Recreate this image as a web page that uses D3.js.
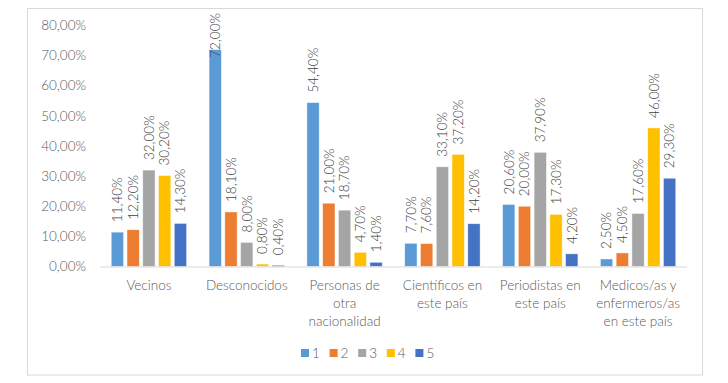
<!DOCTYPE html>
<html>
<head>
<meta charset="utf-8">
<script src="https://cdn.jsdelivr.net/npm/d3@7"></script>
<style>
  body { margin: 0; background: #fff; }
  text { font-family: Lato, "Open Sans", sans-serif; font-weight: 300; }
</style>
</head>
<body>
<div id="chart"></div>
<script>
// categories (lines split as in the reference)
var categories = [
  ["Vecinos"],
  ["Desconocidos"],
  ["Personas de", "otra", "nacionalidad"],
  ["Científicos en", "este país"],
  ["Periodistas en", "este país"],
  ["Medicos/as y", "enfermeros/as", "en este país"]
];
var seriesNames = ["1", "2", "3", "4", "5"];
var s1 = [11.4, 72.0, 54.4, 7.7, 20.6, 2.5];
var s2 = [12.2, 18.1, 21.0, 7.6, 20.0, 4.5];
var s3 = [32.0, 8.0, 18.7, 33.1, 37.9, 17.6];
var s4 = [30.2, 0.8, 4.7, 37.2, 17.3, 46.0];
var s5 = [14.3, 0.4, 1.4, 14.2, 4.2, 29.3];
var yTicks = [0, 10, 20, 30, 40, 50, 60, 70, 80];
var colors = ["#5B9BD5", "#ED7D31", "#A5A5A5", "#FFC000", "#4472C4"];

var series = [s1, s2, s3, s4, s5];

var W = 728, H = 383;
var plot = { left: 100, right: 687, top: 13, bottom: 266.5 };

var svg = d3.select("#chart").append("svg")
  .attr("width", W)
  .attr("height", H);

// outer chart border
svg.append("rect")
  .attr("x", 27.5).attr("y", 8.5)
  .attr("width", 675).attr("height", 366.5)
  .attr("fill", "none")
  .attr("stroke", "#D9D9D9");

var x0 = d3.scaleBand()
  .domain(d3.range(categories.length))
  .range([plot.left, plot.right])
  .paddingInner(0.23)
  .paddingOuter(0.115);

var x1 = d3.scaleBand()
  .domain(d3.range(series.length))
  .range([0, x0.bandwidth()])
  .paddingInner(0.22);

var y = d3.scaleLinear()
  .domain([0, 80])
  .range([plot.bottom, 25.5]);

var fmt = function(v) { return v.toFixed(2).replace(".", ",") + "%"; };

// y tick labels
svg.append("g").selectAll("text")
  .data(yTicks)
  .enter().append("text")
  .attr("x", 86)
  .attr("y", function(d) { return y(d); })
  .attr("dy", "0.35em")
  .attr("text-anchor", "end")
  .attr("font-size", 13.5)
  .attr("fill", "#595959")
  .text(fmt);

// bars
var groups = svg.append("g").selectAll("g")
  .data(categories)
  .enter().append("g")
  .attr("transform", function(d, i) { return "translate(" + x0(i) + ",0)"; });

groups.selectAll("rect")
  .data(function(d, i) { return series.map(function(s, k) { return { k: k, v: s[i] }; }); })
  .enter().append("rect")
  .attr("x", function(d) { return x1(d.k); })
  .attr("y", function(d) { return y(d.v); })
  .attr("width", x1.bandwidth())
  .attr("height", function(d) { return plot.bottom - y(d.v); })
  .attr("fill", function(d) { return colors[d.k]; })
  .attr("stroke", "#fff")
  .attr("stroke-opacity", 0.6)
  .attr("stroke-width", 0.7);

// value labels, rotated
groups.selectAll("text.val")
  .data(function(d, i) { return series.map(function(s, k) { return { k: k, v: s[i] }; }); })
  .enter().append("text")
  .attr("class", "val")
  .attr("font-size", 13.5)
  .attr("fill", "#404040")
  .text(function(d) { return fmt(d.v); })
  .each(function(d) {
    var len = this.getComputedTextLength();
    var yy = Math.max(y(d.v) - 10, plot.top + len);
    var xx = x1(d.k) + x1.bandwidth() / 2;
    d3.select(this)
      .attr("transform", "translate(" + (xx + 4.8) + "," + yy + ") rotate(-90)");
  });

// baseline
svg.append("line")
  .attr("x1", plot.left).attr("x2", plot.right)
  .attr("y1", plot.bottom + 0.5).attr("y2", plot.bottom + 0.5)
  .attr("stroke", "#D9D9D9");

// category labels
var cat = svg.append("g").selectAll("text")
  .data(categories)
  .enter().append("text")
  .attr("text-anchor", "middle")
  .attr("font-size", 13.5)
  .attr("fill", "#595959")
  .attr("transform", function(d, i) { return "translate(" + (x0(i) + x0.bandwidth() / 2) + ",290)"; });

cat.selectAll("tspan")
  .data(function(d) { return d; })
  .enter().append("tspan")
  .attr("x", 0)
  .attr("y", function(d, j) { return j * 18; })
  .text(function(d) { return d; });

// legend
var leg = svg.append("g").selectAll("g")
  .data(seriesNames)
  .enter().append("g")
  .attr("transform", function(d, i) { return "translate(" + (301 + i * 28.6) + ",349)"; });

leg.append("rect")
  .attr("width", 8).attr("height", 8)
  .attr("fill", function(d, i) { return colors[i]; });

leg.append("text")
  .attr("x", 11)
  .attr("y", 4)
  .attr("dy", "0.35em")
  .attr("font-size", 13.5)
  .attr("fill", "#595959")
  .text(function(d) { return d; });
</script>
</body>
</html>
